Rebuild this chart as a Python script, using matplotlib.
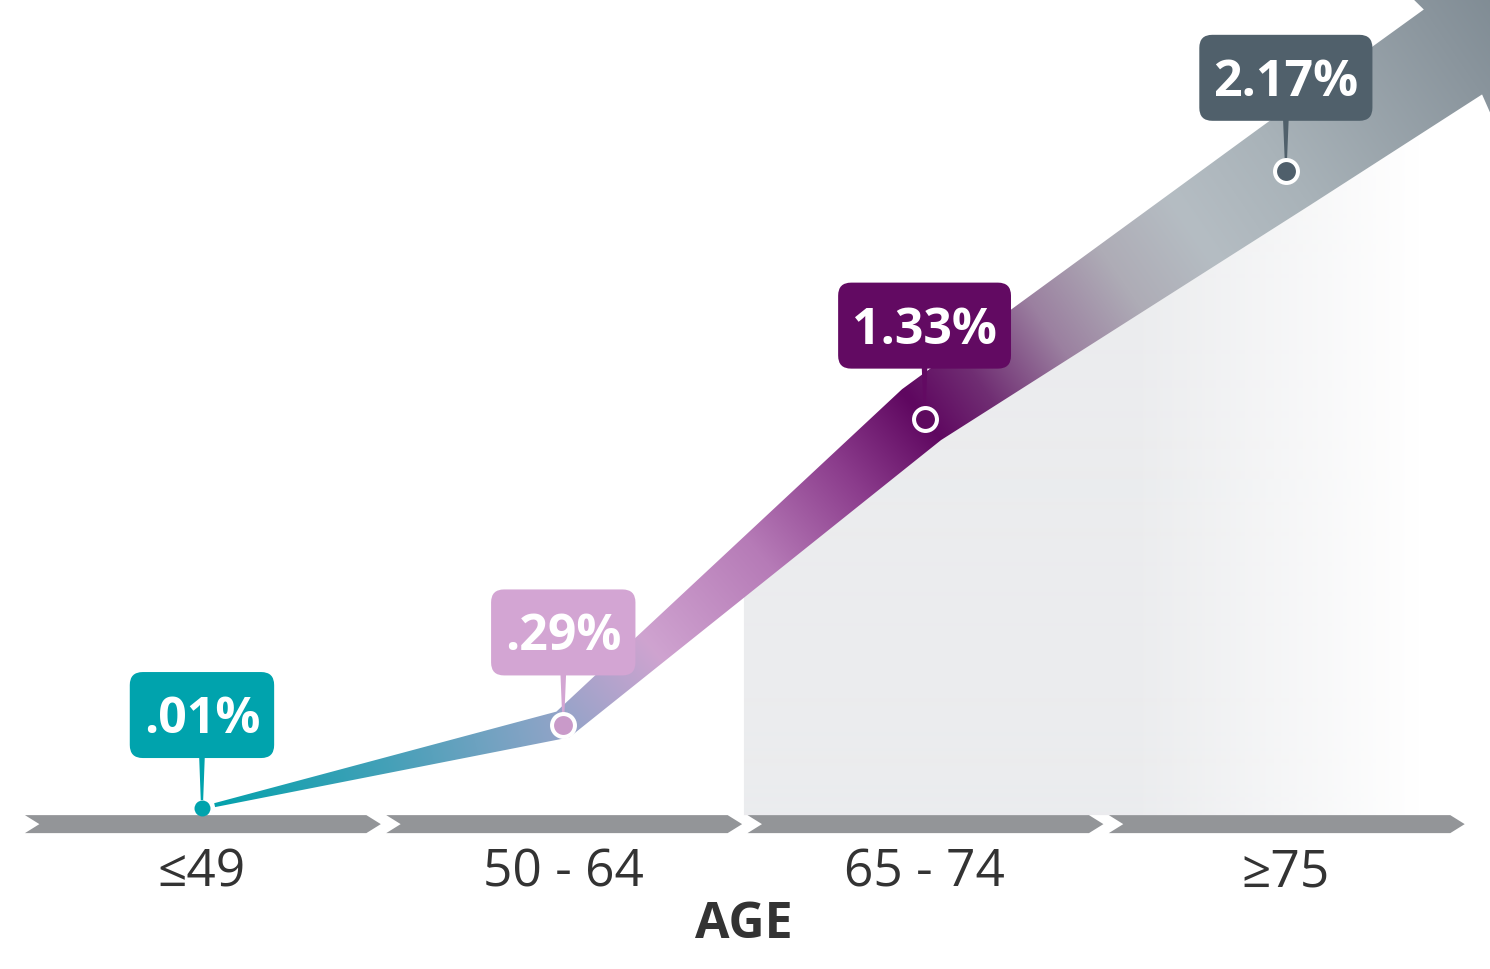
import numpy as np
import matplotlib
matplotlib.use("Agg")
import matplotlib.pyplot as plt
from matplotlib.patches import Polygon, FancyBboxPatch
from matplotlib.transforms import IdentityTransform
from matplotlib.colors import to_rgb

plt.rcParams['font.family'] = ['Open Sans', 'DejaVu Sans']

# data
ages = ["≤49", "50 - 64", "65 - 74", "≥75"]
rates = [0.01, 0.29, 1.33, 2.17]
rate_labels = [".01%", ".29%", "1.33%", "2.17%"]
box_colors = ["#00a3ad", "#d3a5d3", "#620a62", "#50606b"]
dot_colors = ["#00a3ad", "#c99ac9", "#5e0a5e", "#4f5f6b"]
axis_title = "AGE"

W, H = 1490, 969
fig = plt.figure(figsize=(W / 100, H / 100), dpi=100)
ax = fig.add_axes([0, 0, 1, 1])
XLIM = (-0.559, 3.565)
YLIM = (-0.5356, 2.749)
ax.set_xlim(*XLIM)
ax.set_ylim(*YLIM)
ax.axis("off")

to_px = ax.transData.transform
to_data = ax.transData.inverted().transform

xs = np.arange(len(ages), dtype=float)
ys = np.array(rates)
pts = to_px(np.column_stack([xs, ys]))


def unit(v):
    return v / np.hypot(*v)


#####################################################
#          band centre line and its outline         #
#####################################################
d0 = unit(pts[1] - pts[0])
d_last = unit(pts[-1] - pts[-2])
line = np.vstack([pts[0] + 13 * d0, pts[1:], pts[-1] + 205 * d_last])
tip = line[-1] + 130 * d_last
hw_up = np.array([2.0, 15.0, 37.0, 50.0, 55.0])
hw_lo = np.array([2.0, 13.0, 27.0, 42.0, 48.0])

seg = np.diff(line, axis=0)
seg = seg / np.hypot(seg[:, 0], seg[:, 1])[:, None]
nrm = np.column_stack([-seg[:, 1], seg[:, 0]])
miter = np.zeros_like(line)
miter[0] = nrm[0]
miter[-1] = nrm[-1]
for i in range(1, len(line) - 1):
    m = unit(nrm[i - 1] + nrm[i])
    miter[i] = m / np.dot(m, nrm[i])
upper = line + miter * hw_up[:, None]
lower = line - miter * hw_lo[:, None]
barb_up = line[-1] + nrm[-1] * 86 - 6 * d_last
barb_lo = line[-1] - nrm[-1] * 80 - 6 * d_last
band_px = np.vstack([upper, barb_up, tip, barb_lo, lower[::-1]])

# gradient along the band (nearest point on centre line)
gx, gy = np.meshgrid(np.arange(W) + 0.5, np.arange(H) + 0.5)
cl = np.vstack([line, tip])
best_d = np.full(gx.shape, np.inf)
best_t = np.zeros(gx.shape)
for i in range(len(cl) - 1):
    a, b = cl[i], cl[i + 1]
    ab = b - a
    u = ((gx - a[0]) * ab[0] + (gy - a[1]) * ab[1]) / (ab @ ab)
    u = np.clip(u, 0, 1)
    dist = np.hypot(gx - (a[0] + u * ab[0]), gy - (a[1] + u * ab[1]))
    mask = dist < best_d
    best_d = np.where(mask, dist, best_d)
    best_t = np.where(mask, i + u, best_t)

stop_t = [0.0, 0.5, 1.0, 1.25, 1.55, 1.8, 2.0, 2.15, 2.35, 2.55, 2.75, 3.0, 4.0, 5.0]
stop_c = ["#04a2ac", "#45a0b8", "#93a4c8", "#cfa3d0", "#b67bb7", "#8b3c8c",
          "#5f0760", "#702e73", "#9b80a0", "#aeacb6", "#b5bdc3", "#a9b3b9",
          "#8a959d", "#76838c"]
rgb = np.array([to_rgb(c) for c in stop_c])
img = np.dstack([np.interp(best_t, stop_t, rgb[:, k]) for k in range(3)])

# grey panel behind the older age groups
bar_top, bar_bot = -0.014, -0.075
xl = to_px((1.5, 0))[0]
yb = to_px((0, bar_top))[1]
yl = np.interp(xl, cl[:, 0], cl[:, 1])
grey_px = np.vstack([[xl, yb], [xl, yl], cl[cl[:, 0] > xl], [cl[-1, 0], yb]])
grey_patch = Polygon(to_data(grey_px), closed=True, fc="none", ec="none")
ax.add_patch(grey_patch)
g_alpha = np.interp(np.arange(W) + 0.5, [0, 1130, 1420], [1, 1, 0])
grey_img = np.zeros((1, W, 4))
grey_img[..., :3] = to_rgb("#ebecee")
grey_img[..., 3] = g_alpha
gim = ax.imshow(grey_img, extent=(*XLIM, *YLIM), origin="lower", aspect="auto",
                interpolation="bilinear", zorder=1)
gim.set_clip_path(grey_patch)

band_patch = Polygon(to_data(band_px), closed=True, fc="none", ec="none")
ax.add_patch(band_patch)
bim = ax.imshow(img, extent=(*XLIM, *YLIM), origin="lower", aspect="auto",
                interpolation="bilinear", zorder=2)
bim.set_clip_path(band_patch)

#####################################################
#                 chevron axis bars                 #
#####################################################
notch = 0.04
for x in xs:
    L, R = x - 0.49, x + 0.495
    mid = (bar_top + bar_bot) / 2
    chev = [(L, bar_top), (R - notch, bar_top), (R, mid), (R - notch, bar_bot),
            (L, bar_bot), (L + notch, mid)]
    ax.add_patch(Polygon(chev, closed=True, fc="#939598", ec="none", zorder=3))

for x, lab in zip(xs, ages):
    ax.text(x, -0.21, lab, ha="center", va="center", fontsize=37,
            color="#333333", zorder=6)
ax.text(1.5, -0.386, axis_title, ha="center", va="center", fontsize=36,
        fontweight="bold", color="#333333", zorder=6)

#####################################################
#            callout boxes, stems, markers          #
#####################################################
renderer = fig.canvas.get_renderer()
for i, (p, lab) in enumerate(zip(pts, rate_labels)):
    box_bot = p[1] + 50
    box_h = 86
    t = ax.text(xs[i], ys[i], lab, fontsize=36, fontweight="bold", color="white",
                ha="center", va="baseline", zorder=7)
    tw = t.get_window_extent(renderer).width
    bw = tw + 28
    t.set_position(to_data((p[0], box_bot + box_h / 2 - 18)))
    ax.add_patch(FancyBboxPatch((p[0] - bw / 2, box_bot), bw, box_h,
                                boxstyle="round,pad=0,rounding_size=13",
                                fc=box_colors[i], ec="none",
                                transform=IdentityTransform(), zorder=5))
    r = 8 if i == 0 else 12
    stem = [(p[0] - 2.8, box_bot + 1), (p[0] + 2.8, box_bot + 1),
            (p[0] + 1.2, p[1] + r), (p[0] - 1.2, p[1] + r)]
    ax.add_patch(Polygon(to_data(np.array(stem)), closed=True, fc=box_colors[i],
                         ec="none", zorder=4))

ax.plot(xs[:1], ys[:1], "o", ms=11.5, mfc=dot_colors[0], mec=dot_colors[0],
        mew=0, zorder=6)
for i in range(1, len(xs)):
    ax.plot(xs[i], ys[i], "o", ms=16.5, mfc=dot_colors[i], mec="white",
            mew=2.9, zorder=6)

fig.savefig("out.png", dpi=100)
